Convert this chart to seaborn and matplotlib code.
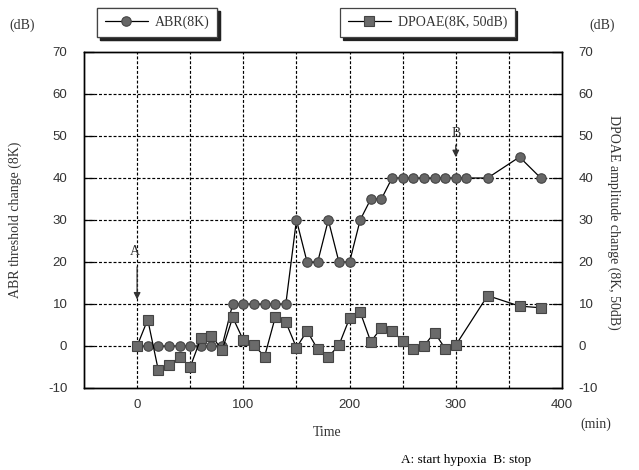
import matplotlib
matplotlib.use("Agg")
import matplotlib.pyplot as plt
import seaborn as sns
import pandas as pd

abr_time = [0, 10, 20, 30, 40, 50, 60, 70, 80, 90, 100, 110, 120, 130, 140,
            150, 160, 170, 180, 190, 200, 210, 220, 230, 240, 250, 260, 270,
            280, 290, 300, 310, 330, 360, 380]
abr_value = [0, 0, 0, 0, 0, 0, 0, 0, 0, 10, 10, 10, 10, 10, 10,
             30, 20, 20, 30, 20, 20, 30, 35, 35, 40, 40, 40, 40,
             40, 40, 40, 40, 40, 45, 40]

dp_time = [0, 10, 20, 30, 40, 50, 60, 70, 80, 90, 100, 110, 120, 130, 140,
           150, 160, 170, 180, 190, 200, 210, 220, 230, 240, 250, 260, 270,
           280, 290, 300, 330, 360, 380]
dp_value = [0, 6.3, -5.8, -4.6, -2.6, -5.0, 1.8, 2.5, -1.0, 6.8, 1.4, 0.2,
            -2.5, 6.8, 5.7, -0.4, 3.6, -0.8, -2.6, 0.2, 6.6, 8.1, 1.0, 4.4,
            3.6, 1.2, -0.8, 0.0, 3.2, -0.6, 0.2, 12.0, 9.5, 9.1]

x_ticks = [0, 100, 200, 300, 400]
y_ticks = [-10, 0, 10, 20, 30, 40, 50, 60, 70]

abr_df = pd.DataFrame({"Time": abr_time, "ABR": abr_value})
dp_df = pd.DataFrame({"Time": dp_time, "DPOAE": dp_value})

sns.set_style("white")
plt.rcParams["font.family"] = ["Liberation Serif", "DejaVu Serif"]

txt = "#333333"
fig = plt.figure(figsize=(6.39, 4.70), dpi=100)
ax = fig.add_axes([84 / 639, 1 - 388 / 470, (562 - 84) / 639, (388 - 52) / 470])
ax2 = ax.twinx()

sns.lineplot(data=abr_df, x="Time", y="ABR", ax=ax, color="black", lw=0.9,
             marker="o", markersize=6.8, markerfacecolor="#666666",
             markeredgecolor="#444444", markeredgewidth=0.8, zorder=3,
             label="ABR(8K)", legend=False)
sns.lineplot(data=dp_df, x="Time", y="DPOAE", ax=ax2, color="black", lw=0.9,
             marker="s", markersize=7, markerfacecolor="#6a6a6a",
             markeredgecolor="#444444", markeredgewidth=0.8, zorder=3,
             label="DPOAE(8K, 50dB)", legend=False)

for a in (ax, ax2):
    a.set_xlim(-50, 400)
    a.set_ylim(-10, 70)
    a.set_yticks(y_ticks)
    a.set_ylabel("")
    a.set_xlabel("")

ax.set_xticks(x_ticks)
ax.set_xticklabels([str(v) for v in x_ticks], fontfamily="Liberation Sans",
                   fontsize=9.5, color=txt)
ax.set_yticklabels([str(v) for v in y_ticks], fontfamily="Liberation Sans",
                   fontsize=9.5, color=txt)
ax2.set_yticklabels([str(v) for v in y_ticks], fontfamily="Liberation Sans",
                    fontsize=9.5, color=txt)

ax.grid(False)
ax2.grid(False)
grid_ls = (0, (2.5, 1.6))
for xv in range(0, 400, 50):
    ax.axvline(xv, color="black", lw=0.85, ls=grid_ls, zorder=1)
for yv in range(0, 70, 10):
    ax.axhline(yv, color="black", lw=0.85, ls=grid_ls, zorder=1)

ax.tick_params(axis="y", direction="in", length=7, width=0.9, pad=12, colors="black", labelcolor=txt)
ax2.tick_params(axis="y", direction="in", length=7, width=0.9, pad=12, colors="black", labelcolor=txt)
ax.tick_params(axis="x", which="both", direction="in", length=0, pad=8, labelcolor=txt)

for a in (ax, ax2):
    for s in a.spines.values():
        s.set_color("black")
        s.set_linewidth(1.0)

ax2.set_zorder(ax.get_zorder() + 1)
ax2.patch.set_visible(False)

# Annotations A and B
ax.annotate("", xy=(0, 10.4), xytext=(0, 19.5),
            arrowprops=dict(arrowstyle="-|>", color="#333333", lw=0.9,
                            mutation_scale=10), zorder=4)
ax.text(-2, 22.5, "A", ha="center", va="center", fontsize=10, color=txt)
ax.annotate("", xy=(300, 44.3), xytext=(300, 48.5),
            arrowprops=dict(arrowstyle="-|>", color="#333333", lw=0.9,
                            mutation_scale=10), zorder=4)
ax.text(300, 50.6, "B", ha="center", va="center", fontsize=10, color=txt)

# Axis titles
fig.text(15 / 639, 1 - 220 / 470, "ABR threshold change (8K)", rotation=90,
         ha="center", va="center", fontsize=10, color=txt)
fig.text(614 / 639, 1 - 222 / 470, "DPOAE amplitude change (8K, 50dB)",
         rotation=-90, ha="center", va="center", fontsize=10, color=txt)
fig.text(327 / 639, 1 - 433 / 470, "Time", ha="center", va="center",
         fontsize=10, color=txt)
fig.text(596 / 639, 1 - 424 / 470, "(min)", ha="center", va="center",
         fontsize=10, color=txt)
fig.text(22 / 639, 1 - 25 / 470, "(dB)", ha="center", va="center",
         fontsize=10, color=txt)
fig.text(602 / 639, 1 - 25 / 470, "(dB)", ha="center", va="center",
         fontsize=10, color=txt)
fig.text(466 / 639, 1 - 460 / 470, "A: start hypoxia  B: stop",
         ha="center", va="center", fontsize=9.5, color="black")

# Legends as separate boxes
h1, l1 = ax.get_legend_handles_labels()
h2, l2 = ax2.get_legend_handles_labels()
shadow = {"color": "#222222", "alpha": 1.0, "ox": 2, "oy": -2}
common = dict(loc="upper left", frameon=True, fancybox=False, shadow=shadow,
              fontsize=10, handlelength=3.1, borderpad=0.55,
              handletextpad=0.5, borderaxespad=0)
leg1 = fig.legend(h1, l1, bbox_to_anchor=(97 / 639, 1 - 8 / 470), **common)
leg2 = fig.legend(h2, l2, bbox_to_anchor=(340 / 639, 1 - 8 / 470), **common)
for lg in (leg1, leg2):
    lg.get_frame().set_edgecolor("#444444")
    lg.get_frame().set_linewidth(0.9)
    lg.get_frame().set_facecolor("white")
    for t in lg.get_texts():
        t.set_color(txt)
fig.add_artist(leg1)

fig.savefig("out.png", dpi=100)
